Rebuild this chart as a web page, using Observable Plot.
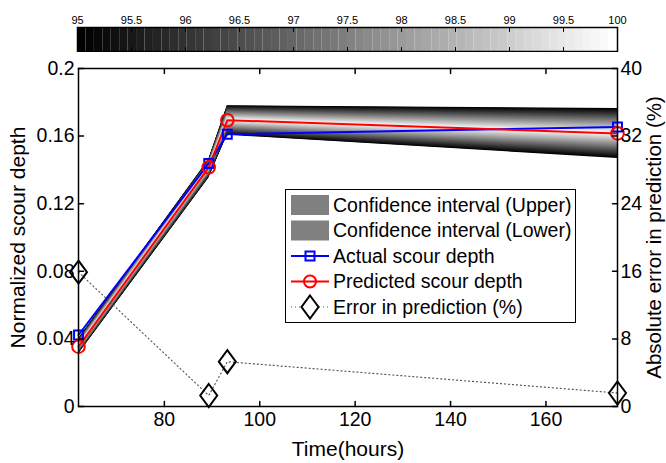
<!DOCTYPE html>
<html><head><meta charset="utf-8">
<script src="https://cdn.jsdelivr.net/npm/d3@7"></script>
<script src="https://cdn.jsdelivr.net/npm/@observablehq/plot@0.6"></script>
<style>
body{margin:0;background:#fff;font-family:"Liberation Sans",Arial,Helvetica,sans-serif;}
#wrap{position:relative;width:666px;height:463px;overflow:hidden;}
#wrap svg{display:block;}
#legend{position:absolute;left:285px;top:189px;}
</style></head><body><div id="wrap"></div>
<script>
// ---- data ----
const times = [62, 89.3, 93.2, 175];
const actualDepth = [0.0423, 0.1438, 0.1611, 0.1654];
const predictedDepth = [0.0354, 0.1415, 0.1694, 0.1616];
const upperBound = [0.040, 0.146, 0.178, 0.1763];
const lowerBound = [0.031, 0.135, 0.1605, 0.1468];
const errorPct = [15.9, 1.3, 5.3, 1.6];
const xTicks = [80, 100, 120, 140, 160];
const depthTicks = [0, 0.04, 0.08, 0.12, 0.16, 0.2];
const errTicks = [0, 8, 16, 24, 32, 40];
const confTicks = [95, 95.5, 96, 96.5, 97, 97.5, 98, 98.5, 99, 99.5, 100];
const legendLabels = ["Confidence interval (Upper)", "Confidence interval (Lower)", "Actual scour depth", "Predicted scour depth", "Error in prediction (%)"];

const xDomain = [62, 175];
const depthMax = 0.2, errMax = 40;
const FONT = "Liberation Sans, Arial, Helvetica, sans-serif";
const fs = 19.5;

const colorScale = {type: "linear", domain: [95, 100], range: ["black", "white"], interpolate: "rgb"};

// gradient steps for the confidence band (95 -> 100)
const nSteps = 40;
const levels = d3.range(nSteps).map(i => 95 + i * 5 / nSteps);
const bandRows = [];
levels.forEach(lv => {
  const f = (100 - lv) / 5;
  times.forEach((t, i) => {
    const p = predictedDepth[i];
    bandRows.push({key: "u" + lv, level: lv, t, y1: p, y2: p + f * (upperBound[i] - p)});
  });
  times.forEach((t, i) => {
    const p = predictedDepth[i];
    bandRows.push({key: "l" + lv, level: lv, t, y1: p, y2: p - f * (p - lowerBound[i])});
  });
});

const rows = times.map((t, i) => ({t, actual: actualDepth[i], pred: predictedDepth[i], err: errorPct[i]}));

const tickShape = {draw(ctx, l) { ctx.moveTo(0, 0); ctx.lineTo(0, -l); }};
const diamond = {draw(ctx) { ctx.moveTo(0, -11.5); ctx.lineTo(8.5, 0); ctx.lineTo(0, 11.5); ctx.lineTo(-8.5, 0); ctx.closePath(); }};

// ---- colorbar ----
const nCells = 64;
const cells = d3.range(nCells).map(i => ({x1: 95 + i * 5 / nCells, x2: 95 + (i + 1) * 5 / nCells, v: 95 + i * 5 / (nCells - 1)}));
const colorbar = Plot.plot({
  width: 666, height: 52,
  marginLeft: 77, marginRight: 49, marginTop: 27, marginBottom: 1,
  style: {fontFamily: FONT, fontSize: "11px", color: "black", background: "white"},
  x: {domain: [95, 100]},
  y: {domain: [0, 1], axis: null},
  color: colorScale,
  marks: [
    Plot.rect(cells, {x1: "x1", x2: "x2", y1: 0, y2: 1, fill: "v"}),
    Plot.vector(confTicks, {x: d => d, y: 0, length: 4, rotate: 0, anchor: "start", shape: tickShape, stroke: "black", strokeWidth: 1}),
    Plot.vector(confTicks, {x: d => d, y: 1, length: 4, rotate: 180, anchor: "start", shape: tickShape, stroke: "black", strokeWidth: 1}),
    Plot.frame({stroke: "black", strokeWidth: 1.5}),
    Plot.axisX(confTicks, {anchor: "top", tickSize: 0, tickPadding: 4, tickFormat: d => String(d), fontSize: 11, label: null})
  ]
});

// ---- main chart ----
const chart = Plot.plot({
  width: 666, height: 411,
  marginLeft: 78, marginRight: 49, marginTop: 16, marginBottom: 57,
  style: {fontFamily: FONT, fontSize: fs + "px", color: "black", background: "white"},
  x: {domain: xDomain},
  y: {domain: [0, depthMax]},
  color: colorScale,
  marks: [
    Plot.areaY(bandRows, {x: "t", y1: "y1", y2: "y2", z: "key", fill: "level"}),
    Plot.line(rows, {x: "t", y: "actual", stroke: "#0000ff", strokeWidth: 2}),
    Plot.line(rows, {x: "t", y: "pred", stroke: "#ff0000", strokeWidth: 2}),
    Plot.dot(rows, {x: "t", y: "actual", symbol: "square", r: 5, stroke: "#0000ff", strokeWidth: 2, fill: "none"}),
    Plot.dot(rows, {x: "t", y: "pred", symbol: "circle", r: 6.3, stroke: "#ff0000", strokeWidth: 2, fill: "none"}),
    Plot.line(rows, {x: "t", y: d => d.err / errMax * depthMax, stroke: "#555", strokeWidth: 1.2, strokeDasharray: "1,3"}),
    Plot.dot(rows, {x: "t", y: d => d.err / errMax * depthMax, symbol: diamond, stroke: "black", strokeWidth: 2, fill: "none"}),
    Plot.frame({stroke: "black", strokeWidth: 1.5}),
    // inward ticks
    Plot.vector(depthTicks, {x: xDomain[0], y: d => d, length: 5, rotate: 90, anchor: "start", shape: tickShape, stroke: "black"}),
    Plot.vector(depthTicks, {x: xDomain[1], y: d => d, length: 5, rotate: -90, anchor: "start", shape: tickShape, stroke: "black"}),
    Plot.vector(xTicks, {x: d => d, y: 0, length: 5, rotate: 0, anchor: "start", shape: tickShape, stroke: "black"}),
    Plot.vector(xTicks, {x: d => d, y: depthMax, length: 5, rotate: 180, anchor: "start", shape: tickShape, stroke: "black"}),
    // tick labels
    Plot.axisY(depthTicks, {anchor: "left", tickSize: 0, tickPadding: 4, tickFormat: d => String(d), fontSize: fs, label: null}),
    Plot.axisY(depthTicks, {anchor: "right", tickSize: 0, tickPadding: 3, tickFormat: d => String(errTicks[depthTicks.indexOf(d)]), fontSize: fs, label: null}),
    Plot.axisX(xTicks, {anchor: "bottom", tickSize: 0, tickPadding: 6, tickFormat: d => String(d), fontSize: fs, label: null}),
    // axis titles
    Plot.text(["Normalized scour depth"], {frameAnchor: "left", dx: -60, rotate: -90, textAnchor: "middle", lineAnchor: "middle", fontSize: 21, fill: "black"}),
    Plot.text(["Absolute error in prediction (%)"], {frameAnchor: "right", dx: 37, rotate: -90, textAnchor: "middle", lineAnchor: "middle", fontSize: 20.5, fill: "black"}),
    Plot.text(["Time(hours)"], {frameAnchor: "bottom", dy: 43, textAnchor: "middle", lineAnchor: "middle", fontSize: 21, fill: "black"})
  ]
});

const wrap = document.getElementById("wrap");
wrap.appendChild(colorbar);
wrap.appendChild(chart);

// ---- legend (inside plot area) ----
const L = d3.select(wrap).append("svg").attr("id", "legend")
  .attr("width", 292).attr("height", 135)
  .style("font-family", FONT);
L.append("rect").attr("x", 0.5).attr("y", 0.5).attr("width", 290).attr("height", 133)
  .attr("fill", "white").attr("stroke", "black").attr("stroke-width", 1);
const rowY = [16, 41.5, 67, 92.5, 118];
[0, 1].forEach(i => {
  L.append("rect").attr("x", 6).attr("y", rowY[i] - 10).attr("width", 38).attr("height", 20).attr("fill", "#808080");
});
L.append("line").attr("x1", 6).attr("x2", 44).attr("y1", rowY[2]).attr("y2", rowY[2]).attr("stroke", "#0000ff").attr("stroke-width", 2);
L.append("rect").attr("x", 20.5).attr("y", rowY[2] - 4.5).attr("width", 9).attr("height", 9).attr("fill", "none").attr("stroke", "#0000ff").attr("stroke-width", 2);
L.append("line").attr("x1", 6).attr("x2", 44).attr("y1", rowY[3]).attr("y2", rowY[3]).attr("stroke", "#ff0000").attr("stroke-width", 2);
L.append("circle").attr("cx", 25).attr("cy", rowY[3]).attr("r", 6).attr("fill", "none").attr("stroke", "#ff0000").attr("stroke-width", 2);
L.append("line").attr("x1", 6).attr("x2", 44).attr("y1", rowY[4]).attr("y2", rowY[4]).attr("stroke", "#555").attr("stroke-width", 1.2).attr("stroke-dasharray", "1,3");
L.append("path").attr("d", `M25,${rowY[4] - 11.5}L33.5,${rowY[4]}L25,${rowY[4] + 11.5}L16.5,${rowY[4]}Z`).attr("fill", "white").attr("stroke", "black").attr("stroke-width", 2);
legendLabels.forEach((s, i) => {
  L.append("text").attr("x", 48).attr("y", rowY[i]).attr("dy", "0.35em").attr("font-size", 19.5).attr("fill", "black").text(s);
});
</script>
</body></html>
